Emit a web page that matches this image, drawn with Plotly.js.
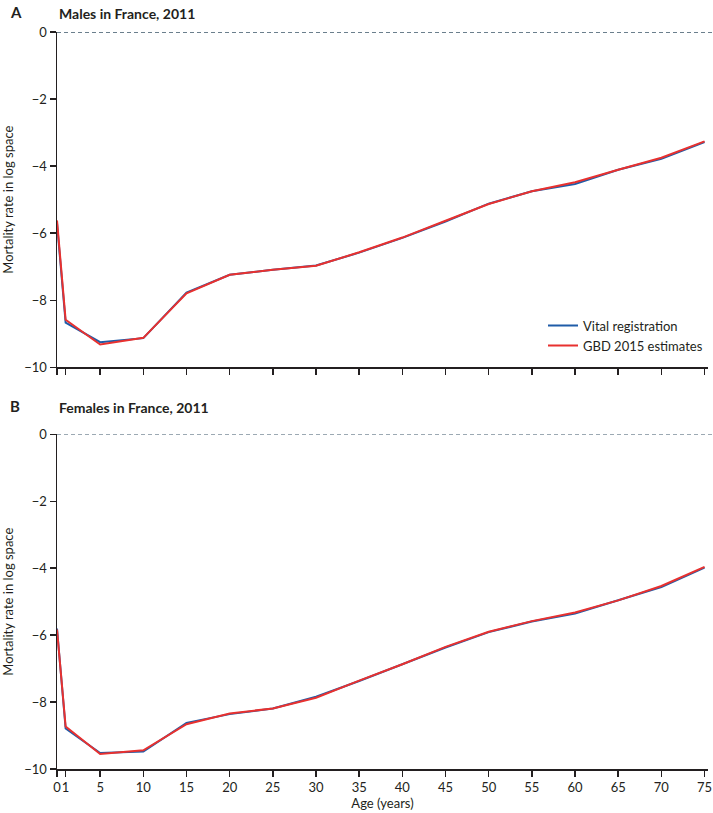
<!DOCTYPE html>
<html>
<head>
<meta charset="utf-8">
<script src="https://cdn.plot.ly/plotly-3.0.1.min.js"></script>
<style>html,body{margin:0;padding:0;background:#fff}#chart{width:713px;height:813px}</style>
</head>
<body>
<div id="chart"></div>
<script>
// Age groups (years)
const ages = [0, 1, 5, 10, 15, 20, 25, 30, 35, 40, 45, 50, 55, 60, 65, 70, 75];
const xTickVals = [0, 1, 5, 10, 15, 20, 25, 30, 35, 40, 45, 50, 55, 60, 65, 70, 75];
const yTickVals = [0, -2, -4, -6, -8, -10];

// Panel A: Males in France, 2011 (log mortality rate)
const malesVR  = [-5.70, -8.67, -9.25, -9.13, -7.77, -7.24, -7.09, -6.96, -6.58, -6.14, -5.65, -5.12, -4.75, -4.53, -4.11, -3.78, -3.28];
const malesGBD = [-5.62, -8.58, -9.32, -9.12, -7.79, -7.24, -7.09, -6.97, -6.57, -6.13, -5.63, -5.13, -4.75, -4.48, -4.11, -3.75, -3.26];

// Panel B: Females in France, 2011 (log mortality rate)
const femalesVR  = [-5.80, -8.79, -9.52, -9.48, -8.62, -8.36, -8.19, -7.84, -7.37, -6.87, -6.37, -5.91, -5.59, -5.35, -4.96, -4.56, -3.98];
const femalesGBD = [-5.83, -8.73, -9.55, -9.44, -8.66, -8.34, -8.19, -7.87, -7.36, -6.87, -6.35, -5.90, -5.58, -5.32, -4.96, -4.53, -3.96];

const seriesNames = ["Vital registration", "GBD 2015 estimates"];
const blue = "#1f5ca8";
const red = "#e8312f";
const ink = "#231f20";
const FONT = "Lato, 'Open Sans', sans-serif";

const traces = [
  {x: ages, y: malesVR, name: seriesNames[0], xaxis: "x", yaxis: "y", mode: "lines", line: {color: blue, width: 2}, showlegend: true},
  {x: ages, y: malesGBD, name: seriesNames[1], xaxis: "x", yaxis: "y", mode: "lines", line: {color: red, width: 2}, showlegend: true},
  {x: ages, y: femalesVR, name: seriesNames[0], xaxis: "x2", yaxis: "y2", mode: "lines", line: {color: blue, width: 2}, showlegend: false},
  {x: ages, y: femalesGBD, name: seriesNames[1], xaxis: "x2", yaxis: "y2", mode: "lines", line: {color: red, width: 2}, showlegend: false}
];

function xAxis(anchor, showLabels) {
  return {
    anchor: anchor, domain: [0, 1], range: [0, 75.4], automargin: false,
    tickmode: "array", tickvals: xTickVals, ticktext: xTickVals.map(String),
    tickangle: 0,
    showticklabels: showLabels, ticks: "outside", ticklen: 6, tickwidth: 1.5, tickcolor: ink,
    showline: true, linecolor: ink, linewidth: 1.5, showgrid: false, zeroline: false,
    tickfont: {family: FONT, size: 13, color: ink}
  };
}
function yAxis(anchor, domain) {
  return {
    anchor: anchor, domain: domain, range: [-10, 0], automargin: false,
    tickmode: "array", tickvals: yTickVals,
    ticks: "outside", ticklen: 6, tickwidth: 1.5, tickcolor: ink,
    showline: true, linecolor: ink, linewidth: 1.5, showgrid: false, zeroline: false,
    tickfont: {family: FONT, size: 13, color: ink},
    title: {text: "Mortality rate in log space", font: {family: FONT, size: 13, color: ink}, standoff: 8}
  };
}

const x2 = xAxis("y2", true);
x2.title = {text: "Age (years)", font: {family: FONT, size: 13, color: ink}, standoff: 4};

const layout = {
  width: 713, height: 813,
  margin: {l: 57, r: 5, t: 32, b: 44},
  paper_bgcolor: "#ffffff", plot_bgcolor: "#ffffff",
  font: {family: FONT, color: ink},
  xaxis: xAxis("y", false),
  yaxis: yAxis("x", [0.545, 1]),
  xaxis2: x2,
  yaxis2: yAxis("x2", [0, 0.454]),
  showlegend: true,
  legend: {x: 1.0, y: 0.622, xanchor: "right", yanchor: "top", bgcolor: "rgba(0,0,0,0)",
           font: {family: FONT, size: 13, color: ink}, tracegroupgap: 0},
  shapes: [
    {type: "line", xref: "paper", yref: "y", x0: 0, x1: 1.01, y0: 0, y1: 0, line: {color: "#3b5568", width: 1.3, dash: "4px,3px"}},
    {type: "line", xref: "paper", yref: "y2", x0: 0, x1: 1.01, y0: 0, y1: 0, line: {color: "#3b5568", width: 1.3, dash: "4px,3px"}}
  ],
  annotations: [
    {text: "<b>A</b>", xref: "paper", yref: "paper", x: -0.075, y: 1.042, xanchor: "left", yanchor: "top", showarrow: false, font: {family: FONT, size: 15, color: ink}},
    {text: "<b>Males in France, 2011</b>", xref: "paper", yref: "paper", x: 0, y: 1.04, xanchor: "left", yanchor: "top", showarrow: false, font: {family: FONT, size: 14, color: ink}},
    {text: "<b>B</b>", xref: "paper", yref: "paper", x: -0.075, y: 0.507, xanchor: "left", yanchor: "top", showarrow: false, font: {family: FONT, size: 15, color: ink}},
    {text: "<b>Females in France, 2011</b>", xref: "paper", yref: "paper", x: 0, y: 0.505, xanchor: "left", yanchor: "top", showarrow: false, font: {family: FONT, size: 14, color: ink}}
  ]
};

Plotly.newPlot("chart", traces, layout, {displayModeBar: false, staticPlot: true});
</script>
</body>
</html>
